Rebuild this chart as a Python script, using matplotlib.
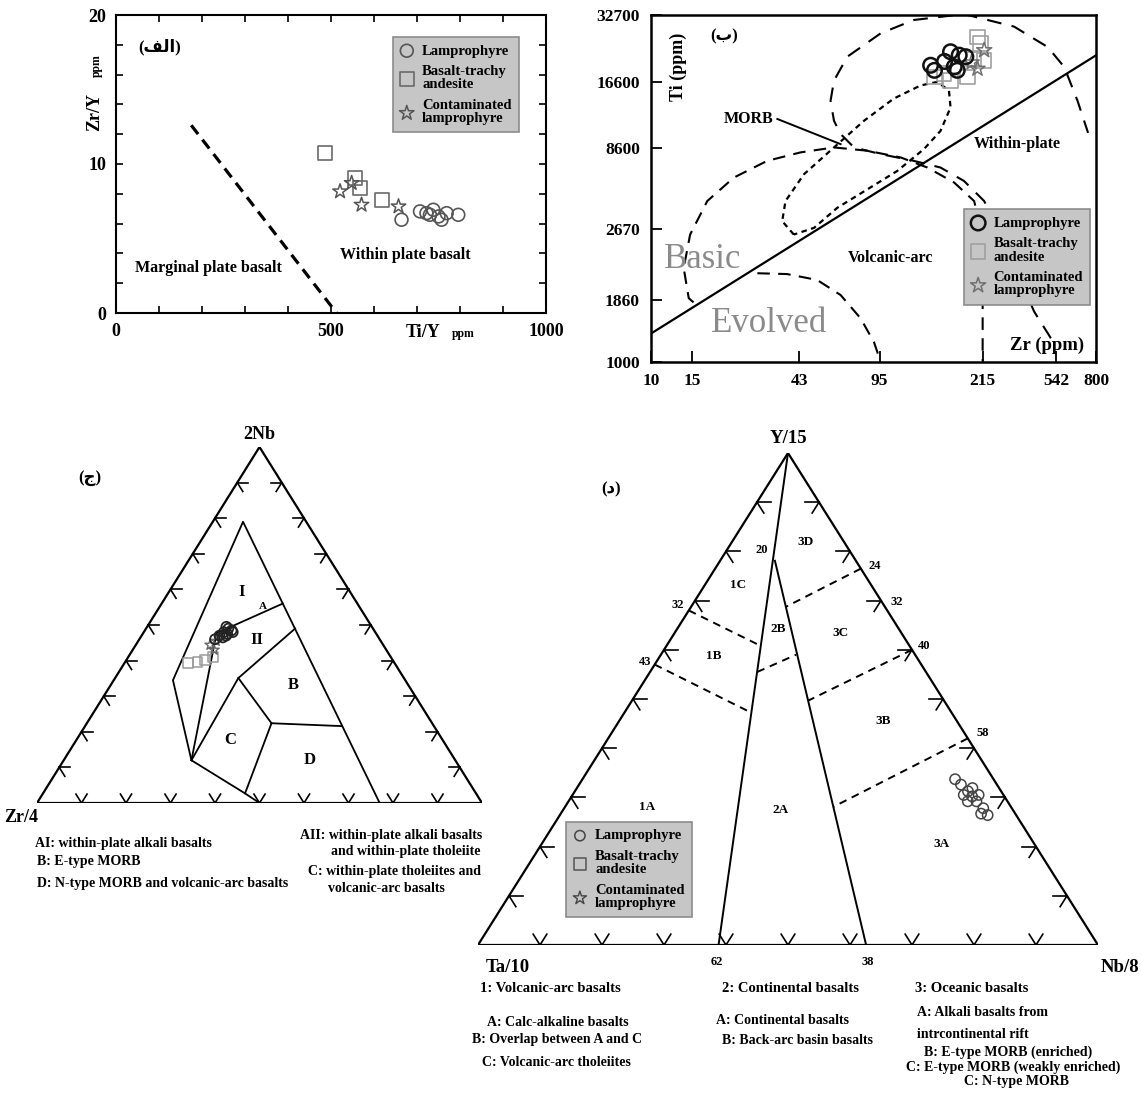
import numpy as np
import matplotlib
matplotlib.use('Agg')
import matplotlib.pyplot as plt

plt.rcParams['font.family'] = ['Liberation Serif', 'DejaVu Sans']
plt.rcParams['font.weight'] = 'bold'

W, H = 1142, 1099

# ---------- (الف) Ti/Y vs Zr/Y ----------
a_lamp_tiy = [664, 707, 722, 738, 750, 757, 769, 796, 730]
a_lamp_zry = [6.26, 6.82, 6.70, 6.93, 6.48, 6.26, 6.70, 6.59, 6.59]
a_bta_tiy = [486, 556, 567, 618]
a_bta_zry = [10.73, 9.05, 8.38, 7.60]
a_cl_tiy = [521, 548, 571, 657]
a_cl_zry = [8.16, 8.72, 7.26, 7.15]
a_bound_tiy = [175, 513]
a_bound_zry = [12.6, 0]
a_xlabels = ['0', '500', '1000']
a_ylabels = ['0', '10', '20']

# ---------- (ب) Zr vs Ti (log) ----------
b_lamp_zr = [157, 191, 208, 198, 222, 204, 163, 180]
b_lamp_ti = [19730, 22600, 21840, 19400, 21500, 18750, 18750, 20500]
b_bta_zr = [249, 257, 266, 226, 191, 179, 163, 240]
b_bta_ti = [26250, 24550, 20750, 17540, 16950, 18130, 17540, 21000]
b_cl_zr = [266, 249, 235]
b_cl_ti = [22950, 19050, 20300]
b_line_zr = [10, 800]
b_line_ti = [1331, 21800]
b_wp_zr = [513, 435, 314, 266, 218, 173, 133, 96, 73.8, 64.7, 60.6, 58.6, 60.6,
           69.1, 96, 133, 218, 357, 497, 585, 667, 740]
b_wp_ti = [1270, 1660, 3600, 5040, 6170, 7060, 7550, 8080, 8640, 9890, 11300,
           13800, 16900, 21500, 27200, 31100, 33000, 29100, 23700, 19400, 13800, 10000]
b_va_zr = [15.2, 14.5, 13.8, 14.7, 17.4, 22.6, 31.4, 43.6, 60.6, 84.2, 117, 152,
           198, 241, 257, 262, 262]
b_va_ti = [1820, 1900, 2570, 3600, 5040, 6380, 7550, 8220, 8640, 8360, 7810, 7060,
           6070, 5040, 3850, 2570, 1000]
b_morb_zr = [40.8, 36.4, 37.6, 45.1, 60.6, 81.5, 109, 142, 168, 188, 191, 173,
             147, 113, 84.2, 62.6, 49.8, 40.8]
b_morb_ti = [3600, 4120, 5040, 6600, 8640, 11300, 14100, 16100, 16700, 15300,
             12900, 10200, 8500, 6820, 5670, 4710, 3850, 3600]
b_evo_zr = [28.5, 38.2, 51.4, 64.7, 78.8, 89.9, 96]
b_evo_ti = [2440, 2420, 2280, 1960, 1550, 1220, 1000]
b_morb_leader_zr = [34.7, 64.7]
b_morb_leader_ti = [11500, 8930]
b_xtick_at = [10, 15, 43, 95, 262, 542, 800]
b_xtick_text = ['10', '15', '43', '95', '215', '542', '800']
b_ytick_at = [1000, 1860, 3800, 8600, 16600, 32700]
b_ytick_text = ['1000', '1860', '2670', '8600', '16600', '32700']

# ---------- (ج) 2Nb - Zr/4 - Y  (fractions Nb, Y) ----------
c_lamp_nb = [0.48, 0.49, 0.47, 0.485, 0.475, 0.495, 0.465, 0.48, 0.46, 0.47]
c_lamp_y = [0.18, 0.185, 0.175, 0.195, 0.19, 0.178, 0.185, 0.20, 0.17, 0.19]
c_bta_nb = [0.393, 0.395, 0.402, 0.41]
c_bta_y = [0.143, 0.163, 0.177, 0.19]
c_cl_nb = [0.444, 0.43, 0.455]
c_cl_y = [0.167, 0.183, 0.175]
# field boundaries (Nb, Y)
c_lines_nb = [[0, 0.027, 0.12, 0.345, 0.79, 0],
              [0.12, 0.477, 0.56],
              [0.12, 0.351, 0.49],
              [0.351, 0.224],
              [0.224, 0.216],
              [0.224, 0.027]]
c_lines_y = [[0.50, 0.454, 0.287, 0.133, 0.068, 0.77],
             [0.287, 0.165, 0.272],
             [0.287, 0.277, 0.335],
             [0.277, 0.415],
             [0.415, 0.577],
             [0.415, 0.454]]

# ---------- (د) Y/15 - Ta/10 - Nb/8  (fractions Y, Nb) ----------
d_lamp_y = [0.337, 0.326, 0.3125, 0.302, 0.292, 0.278, 0.264, 0.305, 0.319, 0.305, 0.292, 0.267]
d_lamp_nb = [0.601, 0.616, 0.634, 0.646, 0.658, 0.676, 0.69, 0.631, 0.638, 0.655, 0.644, 0.678]
d_solid_y = [[1, 0], [0.781, 0]]
d_solid_nb = [[0, 0.388], [0.0884, 0.626]]
d_dash_y = [[0.68, 0.608], [0.57, 0.472], [0.555, 0.59], [0.765, 0.6875],
            [0.60, 0.4965], [0.42, 0.281]]
d_dash_nb = [[0, 0.152], [0, 0.205], [0.173, 0.218], [0.235, 0.153],
             [0.40, 0.284], [0.58, 0.433]]

legend_labels = ['Lamprophyre', 'Basalt-trachy\nandesite', 'Contaminated\nlamprophyre']


def add_px_axes(x0, y0, x1, y1):
    return fig.add_axes([x0 / W, 1 - y1 / H, (x1 - x0) / W, (y1 - y0) / H])


def tern(top, right):
    top = np.asarray(top, float)
    right = np.asarray(right, float)
    return right + top / 2, top


def tern_frame(ax, L):
    ax.plot([0, 1, 0.5, 0], [0, 0, 1, 0], color='k', lw=1.6, solid_joinstyle='miter')
    for k in range(1, 10):
        s = k / 10
        for (px, py), arms in [((s, 0), [(0.5, 1), (-0.5, 1)]),
                               ((0.5 * s, s), [(1, 0), (0.5, -1)]),
                               ((1 - 0.5 * s, s), [(-1, 0), (-0.5, -1)])]:
            for dx, dy in arms:
                ax.plot([px, px + L * dx], [py, py + L * dy], color='k', lw=1.2)
    ax.set_xlim(0, 1)
    ax.set_ylim(0, 1)
    ax.axis('off')


def legend(ax, x, y, handles=None, labels=None):
    if handles is None:
        handles, labels = ax.get_legend_handles_labels()
    lg = ax.legend(handles, labels, loc='upper left', bbox_to_anchor=(x, y),
                   frameon=True, fancybox=False, facecolor='#c6c6c6',
                   edgecolor='#8c8c8c', framealpha=1, borderpad=0.5,
                   labelspacing=0.5, handlelength=0.9, handletextpad=0.6,
                   borderaxespad=0,
                   prop={'family': 'Liberation Serif', 'weight': 'bold', 'size': 10.5})
    for t in lg.get_texts():
        t.set_linespacing(1.05)
    lg.get_frame().set_linewidth(1.2)


fig = plt.figure(figsize=(W / 100, H / 100), dpi=100)

# ================= panel (الف) =================
ax = add_px_axes(116, 15, 546, 313)
ax.plot(a_bound_tiy, a_bound_zry, color='k', ls='--', lw=2.3, dashes=(3.5, 2.2))
ax.scatter(a_lamp_tiy, a_lamp_zry, s=85, marker='o', facecolors='none',
           edgecolors='#555555', linewidths=1.2, label=legend_labels[0], zorder=3)
ax.scatter(a_bta_tiy, a_bta_zry, s=105, marker='s', facecolors='none',
           edgecolors='#6a6a6a', linewidths=1.2, label=legend_labels[1], zorder=3)
ax.scatter(a_cl_tiy, a_cl_zry, s=120, marker='*', facecolors='none',
           edgecolors='#555555', linewidths=1.1, label=legend_labels[2], zorder=3)
ax.set_xlim(0, 1000)
ax.set_ylim(0, 20)
xt = np.arange(0, 1001, 100)
ax.set_xticks(xt)
ax.set_xticklabels([str(v) if str(v) in a_xlabels else '' for v in xt])
yt = np.arange(0, 21, 2)
ax.set_yticks(yt)
ax.set_yticklabels([str(v) if str(v) in a_ylabels else '' for v in yt])
ax.tick_params(direction='in', top=True, right=True, length=5, width=1.2,
               labelsize=13, pad=7)
for sp in ax.spines.values():
    sp.set_linewidth(1.5)
legend(ax, 0.644, 0.926)
ax.text(0.102, 0.894, '(\ufed2\ufedf\ufe8d)', transform=ax.transAxes, ha='center',
        va='center', fontsize=12, family=['Liberation Serif', 'DejaVu Sans'])
ax.text(0.216, 0.151, 'Marginal plate basalt', transform=ax.transAxes,
        ha='center', va='center', fontsize=11.5)
ax.text(0.672, 0.196, 'Within plate basalt', transform=ax.transAxes,
        ha='center', va='center', fontsize=11.5)
ax.text(-0.049, 0.675, 'Zr/Y', transform=ax.transAxes, rotation=90,
        ha='center', va='center', fontsize=13)
ax.text(-0.045, 0.83, 'ppm', transform=ax.transAxes, rotation=90,
        ha='center', va='center', fontsize=8.5)
ax.text(0.714, -0.064, 'Ti/Y', transform=ax.transAxes, ha='center',
        va='center', fontsize=13)
ax.text(0.807, -0.070, 'ppm', transform=ax.transAxes, ha='center',
        va='center', fontsize=8.5)

# ================= panel (ب) =================
axb = add_px_axes(651, 15, 1096, 362)
axb.set_xscale('log')
axb.set_yscale('log')
axb.plot(b_line_zr, b_line_ti, color='k', lw=1.6)
axb.plot(b_wp_zr, b_wp_ti, color='k', lw=1.5, ls='--', dashes=(7, 5))
axb.plot(b_va_zr, b_va_ti, color='k', lw=1.5, ls='--', dashes=(6, 4))
axb.plot(b_morb_zr, b_morb_ti, color='k', lw=1.6, ls='--', dashes=(2.5, 2))
axb.plot(b_evo_zr, b_evo_ti, color='k', lw=1.5, ls='--', dashes=(6, 4))
axb.plot(b_morb_leader_zr, b_morb_leader_ti, color='k', lw=1.4)
hs = axb.scatter(b_bta_zr, b_bta_ti, s=110, marker='s', facecolors='none',
                 edgecolors='#a0a0a0', linewidths=1.2, zorder=3)
hst = axb.scatter(b_cl_zr, b_cl_ti, s=130, marker='*', facecolors='none',
                  edgecolors='#707070', linewidths=1.1, zorder=3)
hc = axb.scatter(b_lamp_zr, b_lamp_ti, s=110, marker='o', facecolors='none',
                 edgecolors='#111111', linewidths=1.8, zorder=4)
axb.set_xlim(10, 800)
axb.set_ylim(1000, 32700)
axb.xaxis.set_minor_locator(matplotlib.ticker.NullLocator())
axb.yaxis.set_minor_locator(matplotlib.ticker.NullLocator())
axb.set_xticks(b_xtick_at)
axb.set_xticklabels(b_xtick_text)
axb.set_yticks(b_ytick_at)
axb.set_yticklabels(b_ytick_text)
axb.tick_params(direction='in', length=8, width=1.3, labelsize=12.5, pad=8)
for sp in axb.spines.values():
    sp.set_linewidth(1.8)
legend(axb, 0.704, 0.44, [hc, hs, hst], legend_labels)
axb.text(0.164, 0.937, '(\u0628)', transform=axb.transAxes, ha='center',
         va='center', fontsize=12, family=['Liberation Serif', 'DejaVu Sans'])
axb.text(0.062, 0.85, 'Ti (ppm)', transform=axb.transAxes, rotation=90,
         ha='center', va='center', fontsize=13)
axb.text(0.276, 0.70, 'MORB', transform=axb.transAxes, ha='right',
         va='center', fontsize=11.5)
axb.text(0.824, 0.628, 'Within-plate', transform=axb.transAxes, ha='center',
         va='center', fontsize=11.5)
axb.text(0.539, 0.30, 'Volcanic-arc', transform=axb.transAxes, ha='center',
         va='center', fontsize=11.5)
axb.text(0.115, 0.295, 'Basic', transform=axb.transAxes, ha='center',
         va='center', fontsize=25, color='#8a8a8a', weight='normal')
axb.text(0.265, 0.111, 'Evolved', transform=axb.transAxes, ha='center',
         va='center', fontsize=25, color='#8a8a8a', weight='normal')
axb.text(0.891, 0.048, 'Zr (ppm)', transform=axb.transAxes, ha='center',
         va='center', fontsize=13.5)

# ================= panel (ج) =================
axc = add_px_axes(37, 447, 482, 803)
tern_frame(axc, 0.025)
for nb, yy in zip(c_lines_nb, c_lines_y):
    x, y = tern(nb, yy)
    axc.plot(x, y, color='k', lw=1.3)
x, y = tern(c_bta_nb, c_bta_y)
axc.scatter(x, y, s=50, marker='s', facecolors='none', edgecolors='#9a9a9a', linewidths=1.1, zorder=3)
x, y = tern(c_cl_nb, c_cl_y)
axc.scatter(x, y, s=60, marker='*', facecolors='none', edgecolors='#666666', linewidths=1.0, zorder=3)
x, y = tern(c_lamp_nb, c_lamp_y)
axc.scatter(x, y, s=50, marker='o', facecolors='none', edgecolors='#222222', linewidths=1.3, zorder=4)
for txt, u, v in [('I', 0.46, 0.594), ('II', 0.4937, 0.458), ('B', 0.576, 0.3315),
                  ('C', 0.4337, 0.177), ('D', 0.6135, 0.121)]:
    axc.text(u, v, txt, ha='center', va='center', fontsize=12)
axc.text(0.508, 0.551, 'A', ha='center', va='center', fontsize=8)
axc.text(0.119, 0.913, '(\u062c)', ha='center', va='center', fontsize=12,
         family=['Liberation Serif', 'DejaVu Sans'])
axc.text(0.5, 1.012, '2Nb', ha='center', va='bottom', fontsize=13)
axc.text(-0.036, -0.04, 'Zr/4', ha='center', va='center', fontsize=13)

# ================= panel (د) =================
axd = add_px_axes(478, 453, 1098, 945)
tern_frame(axd, 0.022)
for yy, nb in zip(d_solid_y, d_solid_nb):
    x, y = tern(yy, nb)
    axd.plot(x, y, color='k', lw=1.4)
for yy, nb in zip(d_dash_y, d_dash_nb):
    x, y = tern(yy, nb)
    axd.plot(x, y, color='k', lw=1.4, ls='--', dashes=(4, 3))
x, y = tern(d_lamp_y, d_lamp_nb)
axd.scatter(x, y, s=55, marker='o', facecolors='none', edgecolors='#444444',
            linewidths=1.1, zorder=3, label=legend_labels[0])
axd.scatter([], [], s=80, marker='s', facecolors='none', edgecolors='#555555',
            linewidths=1.1, label=legend_labels[1])
axd.scatter([], [], s=100, marker='*', facecolors='none', edgecolors='#444444',
            linewidths=1.0, label=legend_labels[2])
legend(axd, 0.142, 0.25)
for txt, u, v in [('3D', 0.528, 0.819), ('1C', 0.4196, 0.7326), ('2B', 0.4838, 0.642),
                  ('3C', 0.584, 0.635), ('1B', 0.381, 0.587), ('3B', 0.6537, 0.455),
                  ('1A', 0.2727, 0.281), ('2A', 0.488, 0.274), ('3A', 0.748, 0.205)]:
    axd.text(u, v, txt, ha='center', va='center', fontsize=9.5)
for txt, u, v in [('20', 0.458, 0.802), ('24', 0.640, 0.771), ('32', 0.675, 0.698),
                  ('32', 0.3216, 0.691), ('43', 0.269, 0.576), ('40', 0.720, 0.6075),
                  ('58', 0.8146, 0.430), ('62', 0.3845, -0.034), ('38', 0.629, -0.034)]:
    axd.text(u, v, txt, ha='center', va='center', fontsize=9)
axd.text(0.215, 0.927, '(\u062f)', ha='center', va='center', fontsize=12,
         family=['Liberation Serif', 'DejaVu Sans'])
axd.text(0.5, 1.012, 'Y/15', ha='center', va='bottom', fontsize=13.5)
axd.text(0.048, -0.045, 'Ta/10', ha='center', va='center', fontsize=13.5)
axd.text(1.035, -0.045, 'Nb/8', ha='center', va='center', fontsize=13.5)


# ================= caption texts =================
def ftext(px, py, s, ha='left', size=10):
    fig.text(px / W, 1 - py / H, s, ha=ha, va='center', fontsize=size,
             linespacing=1.05)


ftext(35, 843, 'AI: within-plate alkali basalts')
ftext(37, 862, 'B: E-type MORB')
ftext(37, 884, 'D: N-type MORB and volcanic-arc basalts')
ftext(300, 836, 'AII: within-plate alkali basalts')
ftext(331, 851, 'and within-plate tholeiite')
ftext(308, 872, 'C: within-plate tholeiites and')
ftext(328, 888, 'volcanic-arc basalts')

ftext(550, 988, '1: Volcanic-arc basalts', ha='center', size=10.5)
ftext(790, 988, '2: Continental basalts', ha='center', size=10.5)
ftext(972, 988, '3: Oceanic basalts', ha='center', size=10.5)
ftext(558, 1022, 'A: Calc-alkaline basalts', ha='center')
ftext(557, 1040, 'B: Overlap between A and C', ha='center')
ftext(556, 1063, 'C: Volcanic-arc tholeiites', ha='center')
ftext(783, 1021, 'A: Continental basalts', ha='center')
ftext(798, 1040, 'B: Back-arc basin basalts', ha='center')
ftext(917, 1013, 'A: Alkali basalts from')
ftext(917, 1034, 'intrcontinental rift')
ftext(1008, 1052, 'B: E-type MORB (enriched)', ha='center')
ftext(1013, 1067, 'C: E-type MORB (weakly enriched)', ha='center')
ftext(1016, 1082, 'C: N-type MORB', ha='center')

fig.savefig('out.png', dpi=100)
